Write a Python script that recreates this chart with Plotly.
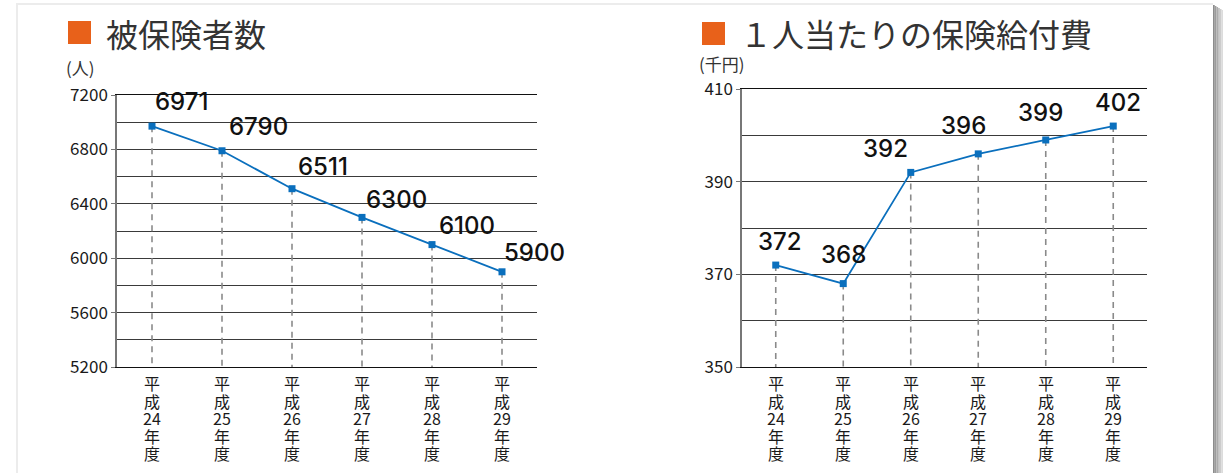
import plotly.graph_objects as go

# ---------------- data ----------------
categories = ["平成24年度", "平成25年度", "平成26年度", "平成27年度", "平成28年度", "平成29年度"]
insured_counts = [6971, 6790, 6511, 6300, 6100, 5900]          # 被保険者数 (人)
benefit_per_person = [372, 368, 392, 396, 399, 402]             # 1人当たりの保険給付費 (千円)
left_yticks = [5200, 5600, 6000, 6400, 6800, 7200]
right_yticks = [350, 370, 390, 410]
left_title = "被保険者数"
right_title = "１人当たりの保険給付費"
left_unit = "(人)"
right_unit = "(千円)"

# label offsets (styling, pixels)
left_label_shift = [(29, 25), (36, 24), (31, 22), (34, 18), (35, 19), (32, 19)]
right_label_shift = [(4, 24), (0, 29), (-25, 24), (-15, 28), (-5, 27), (5, 24)]

W, H = 1223, 473
def px(x): return x / W
def py(y): return 1 - y / H

def stacked(label):
    parts = list(label[:2]) + [label[2:4]] + list(label[4:])
    return "<br>".join(f"<span style='font-size:16px'>{p}</span>" for p in parts)

xs = list(range(len(categories)))

LINE = "#0a6fbd"
JP = "Noto Sans CJK JP"
NUM = "Inter"

fig = go.Figure()

def add_panel(values, yticks, xa, ya):
    base = min(yticks)
    dx, dy = [], []
    for i, v in zip(xs, values):
        dx += [i, i, None]
        dy += [v, base, None]
    fig.add_trace(go.Scatter(x=dx, y=dy, mode="lines", xaxis=xa, yaxis=ya,
                             line=dict(color="#8a8a8a", width=1.6, dash="6px,5px"),
                             hoverinfo="skip", showlegend=False))
    fig.add_trace(go.Scatter(x=xs, y=values, mode="lines+markers", xaxis=xa, yaxis=ya,
                             line=dict(color=LINE, width=1.8),
                             marker=dict(symbol="square", size=7, color=LINE),
                             showlegend=False))

add_panel(insured_counts, left_yticks, "x", "y")
add_panel(benefit_per_person, right_yticks, "x2", "y2")

xcommon = dict(range=[-0.5, len(categories) - 0.5], tickmode="array", tickvals=xs,
               showticklabels=False, ticks="", showgrid=False, zeroline=False,
               showline=True, mirror=True, linecolor="#111", linewidth=1.3,
               automargin=False, fixedrange=True)
ycommon = dict(tickmode="array", showgrid=True, gridcolor="#3a3a3a", gridwidth=1,
               zeroline=False, showline=True, linecolor="#777", linewidth=1.5,
               ticks="outside", ticklen=4, tickcolor="#777", automargin=False,
               tickfont=dict(family=JP, size=17, color="#1a1a1a"))

fig.update_layout(
    width=W, height=H,
    margin=dict(l=0, r=0, t=0, b=0, autoexpand=False),
    paper_bgcolor="white", plot_bgcolor="white",
    xaxis=dict(domain=[px(117), px(537)], anchor="y", **xcommon),
    xaxis2=dict(domain=[px(742), px(1147)], anchor="y2", **xcommon),
    yaxis=dict(domain=[py(367), py(95)], anchor="x", range=[min(left_yticks), max(left_yticks)],
               tickvals=left_yticks,
               minor=dict(dtick=200, tick0=5200, showgrid=True, gridcolor="#3a3a3a", gridwidth=1, ticks=""),
               **ycommon),
    yaxis2=dict(domain=[py(367), py(89)], anchor="x2", range=[min(right_yticks), max(right_yticks)],
                tickvals=right_yticks,
                minor=dict(dtick=10, tick0=350, showgrid=True, gridcolor="#3a3a3a", gridwidth=1, ticks=""),
                **ycommon),
)

annotations = []
for i, v in enumerate(insured_counts):
    sx, sy = left_label_shift[i]
    annotations.append(dict(x=i, y=v, xref="x", yref="y", text=str(v), showarrow=False,
                            xanchor="center", yanchor="middle", xshift=sx, yshift=sy,
                            font=dict(family=NUM, size=24, color="#111", weight=500)))
for i, v in enumerate(benefit_per_person):
    sx, sy = right_label_shift[i]
    annotations.append(dict(x=i, y=v, xref="x2", yref="y2", text=str(v), showarrow=False,
                            xanchor="center", yanchor="middle", xshift=sx, yshift=sy,
                            font=dict(family=NUM, size=24, color="#111", weight=500)))

# vertical stacked category labels (one text per category)
for xref in ("x", "x2"):
    for i, c in enumerate(categories):
        annotations.append(dict(x=i, y=py(418), xref=xref, yref="paper",
                                text=stacked(c), showarrow=False, xanchor="center",
                                yanchor="middle", align="center",
                                font=dict(family=JP, size=13.5, color="#1a1a1a")))

annotations += [
    dict(x=px(104), y=py(33), xref="paper", yref="paper", text=left_title, showarrow=False,
         xanchor="left", yanchor="middle", font=dict(family=JP, size=32, color="#333")),
    dict(x=px(738), y=py(33), xref="paper", yref="paper", text=right_title, showarrow=False,
         xanchor="left", yanchor="middle", font=dict(family=JP, size=32, color="#333")),
    dict(x=px(64), y=py(68), xref="paper", yref="paper", text=left_unit, showarrow=False,
         xanchor="left", yanchor="middle", font=dict(family=JP, size=17, color="#333")),
    dict(x=px(697), y=py(64), xref="paper", yref="paper", text=right_unit, showarrow=False,
         xanchor="left", yanchor="middle", font=dict(family=JP, size=17, color="#333")),
]
fig.update_layout(annotations=annotations)

shapes = [
    dict(type="rect", xref="paper", yref="paper", x0=px(68), x1=px(91), y0=py(44), y1=py(21),
         fillcolor="#e8611a", line=dict(width=0)),
    dict(type="rect", xref="paper", yref="paper", x0=px(702), x1=px(725), y0=py(45), y1=py(22),
         fillcolor="#e8611a", line=dict(width=0)),
    # card shadow
    dict(type="rect", xref="paper", yref="paper", x0=px(16), x1=px(18), y0=0, y1=py(3),
         fillcolor="#ececec", line=dict(width=0), layer="below"),
    dict(type="rect", xref="paper", yref="paper", x0=px(16), x1=px(1213), y0=py(5), y1=py(3),
         fillcolor="#ececec", line=dict(width=0), layer="below"),
]
greys = ["#8c8c8c", "#9c9c9c", "#acacac", "#bcbcbc", "#cccccc", "#dcdcdc"]
for k, g in enumerate(greys):
    shapes.append(dict(type="rect", xref="paper", yref="paper", x0=px(1213 + k * 1.7),
                       x1=px(1213 + (k + 1) * 1.7), y0=0, y1=py(5 + k),
                       fillcolor=g, line=dict(width=0), layer="below"))
fig.update_layout(shapes=shapes)

fig.write_html("out.html")
